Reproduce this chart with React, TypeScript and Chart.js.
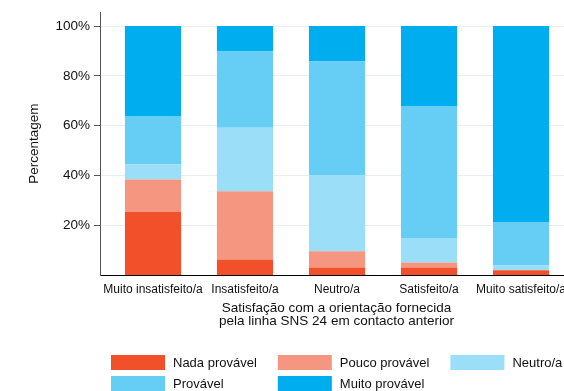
import React, { useEffect, useRef } from "react";
import { Chart, registerables } from "chart.js";

Chart.register(...registerables);

const categories = [
  "Muito insatisfeito/a",
  "Insatisfeito/a",
  "Neutro/a",
  "Satisfeito/a",
  "Muito satisfeito/a",
];
const seriesLabels = ["Nada provável", "Pouco provável", "Neutro/a", "Provável", "Muito provável"];
const nadaProvavel = [25.3, 6.2, 3.0, 3.0, 1.9];
const poucoProvavel = [13.1, 27.4, 6.5, 2.0, 0];
const neutro = [6.0, 25.5, 30.5, 9.9, 1.9];
const provavel = [19.5, 30.7, 45.8, 53.0, 17.5];
const muitoProvavel = [36.1, 10.2, 14.2, 32.1, 78.7];
const yTickValues = [20, 40, 60, 80, 100];
const xTitle = ["Satisfação com a orientação fornecida", "pela linha SNS 24 em contacto anterior"];
const yTitle = "Percentagem";

const seriesValues = [nadaProvavel, poucoProvavel, neutro, provavel, muitoProvavel];
const seriesColors = ["#F1502A", "#F59680", "#9BDEF8", "#66CDF4", "#00AEEF"];

const FONT = '"Liberation Sans", Arial, Helvetica, sans-serif';
const TEXT = "#111111";

const gridLegend = {
  id: "gridLegend",
  afterDraw(chart: any) {
    const ctx = chart.ctx;
    const ds = chart.data.datasets;
    const cols = 3;
    const sw = 54, sh = 15, gap = 8, colGap = 21, rowPitch = 21;
    const x0 = 111, y0 = 355;
    ctx.save();
    ctx.font = `13px ${FONT}`;
    const colW: number[] = [];
    for (let c = 0; c < cols; c++) {
      let m = 0;
      for (let i = c; i < ds.length; i += cols) m = Math.max(m, ctx.measureText(ds[i].label).width);
      colW.push(sw + gap + m + colGap);
    }
    ds.forEach((d: any, i: number) => {
      const c = i % cols;
      const r = Math.floor(i / cols);
      let x = x0;
      for (let k = 0; k < c; k++) x += colW[k];
      const y = y0 + r * rowPitch;
      ctx.fillStyle = d.backgroundColor;
      ctx.fillRect(x, y, sw, sh);
      ctx.fillStyle = TEXT;
      ctx.textBaseline = "middle";
      ctx.textAlign = "left";
      ctx.fillText(d.label, x + sw + gap, y + sh / 2 + 0.5);
    });
    ctx.restore();
  },
};

export default function App() {
  const ref = useRef<HTMLCanvasElement | null>(null);

  useEffect(() => {
    if (!ref.current) return;
    Chart.defaults.font.family = FONT;
    Chart.defaults.color = TEXT;
    const chart = new Chart(ref.current, {
      type: "bar",
      data: {
        datasets: seriesLabels.map((label, s) => ({
          label,
          data: seriesValues[s].map((v, i) => ({ x: i, y: v })),
          backgroundColor: seriesColors[s],
          borderWidth: 0,
          barPercentage: 0.61,
          categoryPercentage: 1,
        })),
      },
      options: {
        animation: false,
        responsive: false,
        layout: { padding: { top: 10, left: 0, right: 27, bottom: 56 } },
        plugins: { legend: { display: false }, tooltip: { enabled: false } },
        scales: {
          x: {
            type: "linear",
            stacked: true,
            offset: false,
            min: -0.576,
            max: 4.565,
            afterBuildTicks: (scale: any) => {
              scale.ticks = categories.map((_, i) => ({ value: i }));
            },
            afterFit: (scale: any) => {
              scale.height = 60;
            },
            ticks: {
              autoSkip: false,
              maxRotation: 0,
              padding: 7,
              font: { size: 12 },
              color: TEXT,
              callback: (v: any) => categories[v] ?? "",
            },
            grid: { display: false, drawTicks: false, offset: false },
            border: { display: true, color: "#000", width: 1 },
            title: {
              display: true,
              text: xTitle,
              font: { size: 13.5, lineHeight: 0.91 },
              color: TEXT,
              padding: { top: 0, bottom: 8 },
            },
          },
          y: {
            stacked: true,
            min: 0,
            max: 105.6,
            afterBuildTicks: (scale: any) => {
              scale.ticks = yTickValues.map((v) => ({ value: v }));
            },
            afterFit: (scale: any) => {
              scale.width = 100;
            },
            ticks: {
              padding: 4,
              font: { size: 13.5 },
              color: TEXT,
              callback: (v: any) => `${v}%`,
            },
            grid: { color: "#E6EFF1", lineWidth: 1, tickColor: "#555", tickLength: 6 },
            border: { display: true, color: "#555", width: 1 },
            title: {
              display: true,
              text: yTitle,
              font: { size: 13.5 },
              color: TEXT,
              padding: { top: 26, bottom: 0 },
            },
          },
        },
      },
      plugins: [gridLegend],
    } as any);
    return () => chart.destroy();
  }, []);

  return (
    <div style={{ position: "absolute", left: 0, top: 0, width: 564, height: 391, overflow: "hidden", background: "#fff" }}>
      <canvas ref={ref} width={600} height={391} />
    </div>
  );
}
